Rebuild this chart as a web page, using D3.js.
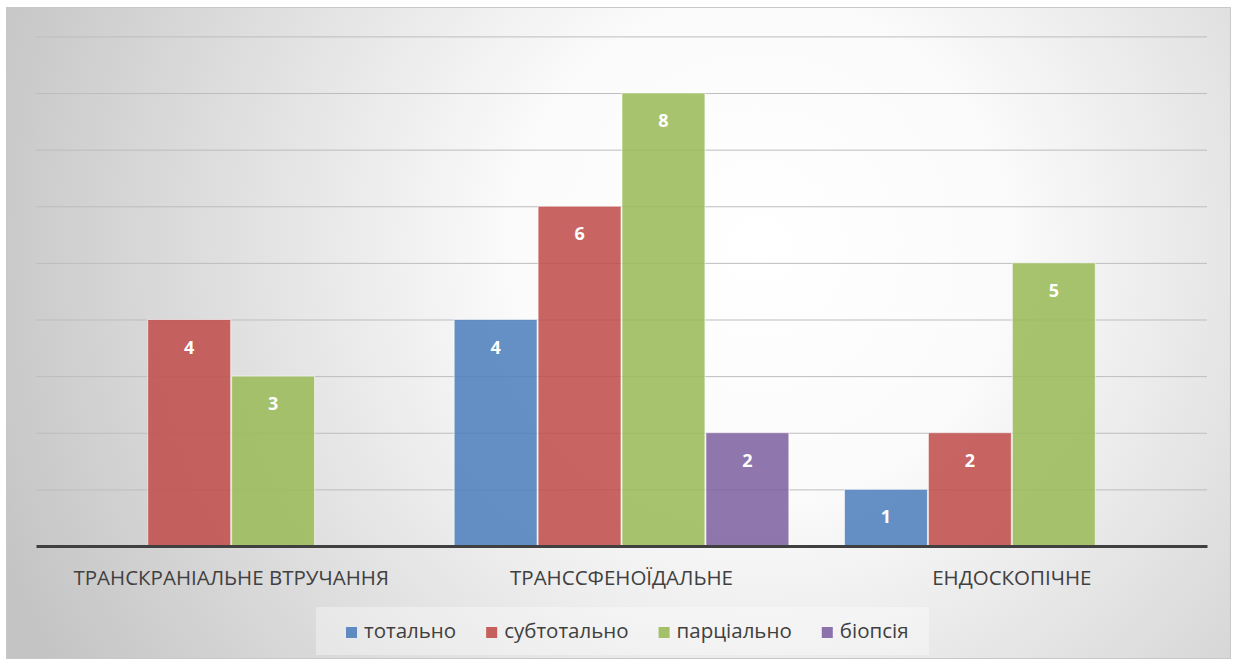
<!DOCTYPE html>
<html>
<head>
<meta charset="utf-8">
<script src="https://cdn.jsdelivr.net/npm/d3@7"></script>
<style>
  html, body { margin: 0; padding: 0; background: #ffffff; }
  svg { display: block; }
</style>
</head>
<body>
<svg id="chart" width="1237" height="666"></svg>
<script>
// Surgical approach categories and outcome series
const categories = ["ТРАНСКРАНІАЛЬНЕ ВТРУЧАННЯ", "ТРАНССФЕНОЇДАЛЬНЕ", "ЕНДОСКОПІЧНЕ"];
const seriesNames = ["тотально", "субтотально", "парціально", "біопсія"];
const seriesColors = ["#4f81bd", "#c0504d", "#9bbb59", "#8064a2"];
const totalValues = [0, 4, 1];
const subtotalValues = [4, 6, 2];
const partialValues = [3, 8, 5];
const biopsyValues = [0, 2, 0];
const yTicks = [0, 1, 2, 3, 4, 5, 6, 7, 8, 9];

const seriesValues = [totalValues, subtotalValues, partialValues, biopsyValues];
const FONT = "'Open Sans', 'Noto Sans', sans-serif";

const svg = d3.select("#chart");

// Background with soft radial shading
const defs = svg.append("defs");
const grad = defs.append("radialGradient")
  .attr("id", "bg")
  .attr("gradientUnits", "userSpaceOnUse")
  .attr("cx", 760).attr("cy", 250).attr("r", 820);
grad.append("stop").attr("offset", "0%").attr("stop-color", "#ffffff");
grad.append("stop").attr("offset", "30%").attr("stop-color", "#fbfbfb");
grad.append("stop").attr("offset", "100%").attr("stop-color", "#c4c4c4");

svg.append("rect")
  .attr("x", 6.5).attr("y", 7.5).attr("width", 1224).attr("height", 651)
  .attr("fill", "url(#bg)")
  .attr("stroke", "#c8c8c8").attr("stroke-width", 1);

const plotLeft = 36, plotRight = 1207, plotTop = 36.4, plotBottom = 546;

const x0 = d3.scaleBand().domain(categories).range([plotLeft, plotRight]).paddingInner(0.14).paddingOuter(0.07);
const x1 = d3.scaleBand().domain(seriesNames).range([0, x0.bandwidth()]).padding(0);
const y = d3.scaleLinear().domain([0, 9]).range([plotBottom, plotTop]);

// Horizontal gridlines
svg.append("g")
  .attr("class", "grid")
  .attr("transform", `translate(${plotLeft},0)`)
  .call(d3.axisLeft(y).tickValues(yTicks.filter(v => v > 0)).tickSize(-(plotRight - plotLeft)).tickFormat(""))
  .call(g => g.select(".domain").remove())
  .call(g => g.selectAll("line").attr("stroke", "#bdbdbd").attr("stroke-width", 1));

// Bars
const groups = svg.append("g").selectAll("g")
  .data(categories)
  .join("g")
  .attr("transform", d => `translate(${x0(d)},0)`);

const cells = groups.selectAll("g.cell")
  .data((c, ci) => seriesNames.map((s, si) => ({ series: s, si, value: seriesValues[si][ci] })).filter(d => d.value > 0))
  .join("g").attr("class", "cell");

cells.append("rect")
  .attr("x", d => x1(d.series) + 0.5)
  .attr("y", d => y(d.value))
  .attr("width", x1.bandwidth() - 1)
  .attr("height", d => y(0) - y(d.value))
  .attr("fill", d => seriesColors[d.si])
  .attr("fill-opacity", 0.88)
  .attr("stroke", "#ffffff").attr("stroke-opacity", 0.6).attr("stroke-width", 1);

cells.append("text")
  .attr("x", d => x1(d.series) + x1.bandwidth() / 2)
  .attr("y", d => y(d.value) + 34)
  .attr("text-anchor", "middle")
  .attr("font-family", FONT)
  .attr("font-weight", "bold")
  .attr("font-size", 18)
  .attr("fill", "#ffffff")
  .text(d => d.value);

// Baseline and category labels
svg.append("g")
  .attr("transform", `translate(0,${plotBottom})`)
  .call(d3.axisBottom(x0).tickSize(0).tickPadding(0))
  .call(g => g.select(".domain").attr("stroke", "#404040").attr("stroke-width", 3))
  .call(g => g.selectAll("text")
    .attr("y", 39).attr("dy", null)
    .attr("font-family", FONT)
    .attr("font-size", 20.5)
    .attr("fill", "#404040"));

// Legend
svg.append("rect")
  .attr("x", 316).attr("y", 607).attr("width", 613).attr("height", 48)
  .attr("fill", "#ffffff").attr("fill-opacity", 0.35);

const legend = svg.append("g").selectAll("g")
  .data(seriesNames)
  .join("g");
legend.append("rect")
  .attr("x", 0).attr("y", -11).attr("width", 11).attr("height", 11)
  .attr("fill", (d, i) => seriesColors[i]).attr("fill-opacity", 0.9);
legend.append("text")
  .attr("x", 18).attr("y", 0)
  .attr("font-family", FONT)
  .attr("font-size", 20.5)
  .attr("fill", "#404040")
  .text(d => d);

// Flow legend items left to right
let lx = 346;
legend.each(function () {
  const g = d3.select(this);
  g.attr("transform", `translate(${lx},638)`);
  const w = g.select("text").node().getComputedTextLength();
  lx += 18 + w + 30;
});
</script>
</body>
</html>
